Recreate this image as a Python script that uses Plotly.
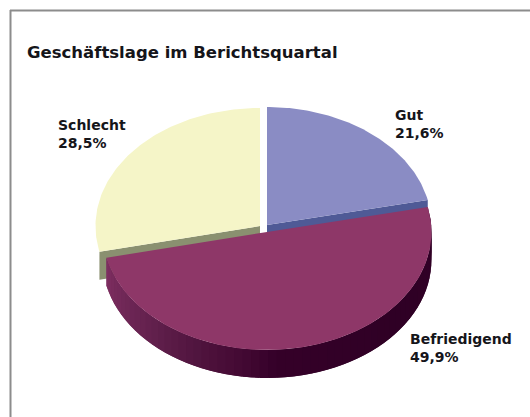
import numpy as np
import plotly.graph_objects as go

categories = ["Gut", "Befriedigend", "Schlecht"]
shares = [21.6, 49.9, 28.5]
share_labels = ["21,6%", "49,9%", "28,5%"]
title = "Geschäftslage im Berichtsquartal"

face_colors = ["#8A8CC4", "#8E3768", "#F5F5C8"]
wall_colors = ["#4F5A96", "#5A1A45", "#8A9070"]
apex = [(267, 225), (267, 232), (260, 226)]
label_pos = [(393, 124), (408, 348), (56, 134)]
A, B, DEPTH = 164.5, 118, 28
gradient_stops = [(0.0, "#330028"), (0.25, "#2F0025"), (0.55, "#350029"), (0.62, "#440A34"),
                  (0.72, "#521640"), (0.84, "#662350"), (1.0, "#7D2E60")]

edges = np.cumsum([0] + shares) / 100 * 2 * np.pi


def rim(i, a0, a1, n=90):
    t = np.linspace(a0, a1, n)
    return apex[i][0] + A * np.sin(t), apex[i][1] - B * np.cos(t)


def hex_rgb(c):
    return np.array([int(c[k:k + 2], 16) for k in (1, 3, 5)])


def grad(f):
    fs = [s[0] for s in gradient_stops]
    cs = np.array([hex_rgb(s[1]) for s in gradient_stops])
    return "rgb(%d,%d,%d)" % tuple(np.interp(f, fs, cs[:, k]) for k in range(3))


fig = go.Figure()


def poly(x, y, color):
    x, y = np.asarray(x, float), np.asarray(y, float)
    fig.add_trace(go.Scatter(x=x, y=y, mode="lines", fill="toself", fillcolor=color,
                             line=dict(color=color, width=0), hoverinfo="skip", showlegend=False))


# Radial walls of the two small slices (seen where the large slice is pulled out)
for i, ang in [(2, edges[2]), (0, edges[1])]:
    x0, y0 = apex[i]
    x1, y1 = rim(i, ang, ang, 1)
    poly([x0, x1[0], x1[0], x0], [y0, y1[0], y1[0] + DEPTH, y0 + DEPTH], wall_colors[i])

# Tops of the two small slices
for i in (0, 2):
    x, y = rim(i, edges[i], edges[i + 1])
    poly(np.r_[apex[i][0], x, apex[i][0]], np.r_[apex[i][1], y, apex[i][1]], face_colors[i])

# Outer wall of the large slice, shaded in overlapping strips so no seams appear
n = 60
x, y = rim(1, edges[1], edges[2], n + 1)
for k in range(n):
    e = min(k + 2, n)
    xs = np.r_[x[k:e + 1], x[k:e + 1][::-1]]
    ys = np.r_[y[k:e + 1], y[k:e + 1][::-1] + DEPTH]
    poly(xs, ys, grad(k / (n - 1)))

# Top of the large slice
x, y = rim(1, edges[1], edges[2], 180)
poly(np.r_[apex[1][0], x, apex[1][0]], np.r_[apex[1][1], y, apex[1][1]], face_colors[1])

annotations = [dict(x=25, y=52, text="<b>%s</b>" % title, showarrow=False, xanchor="left", yanchor="middle",
                    font=dict(family="DejaVu Sans", size=16.5, color="#15151A"))]
for name, val, (lx, ly) in zip(categories, share_labels, label_pos):
    annotations.append(dict(x=lx, y=ly, text="<b>%s<br>%s</b>" % (name, val), showarrow=False, align="left",
                            xanchor="left", yanchor="middle",
                            font=dict(family="DejaVu Sans", size=14, color="#15151A")))

shapes = [
    dict(type="line", x0=10.5, x1=10.5, y0=10, y1=417, line=dict(color="#8C8C8C", width=2)),
    dict(type="line", x0=10, x1=530, y0=10.5, y1=10.5, line=dict(color="#8C8C8C", width=2)),
]

fig.update_layout(
    width=530, height=417, margin=dict(l=0, r=0, t=0, b=0),
    paper_bgcolor="white", plot_bgcolor="white", showlegend=False,
    xaxis=dict(range=[0, 530], visible=False, fixedrange=True),
    yaxis=dict(range=[417, 0], visible=False, fixedrange=True),
    annotations=annotations, shapes=shapes,
)
fig.write_html("out.html", config={"displayModeBar": False},
               post_script="document.body.style.margin='0';document.body.style.overflow='hidden';")
